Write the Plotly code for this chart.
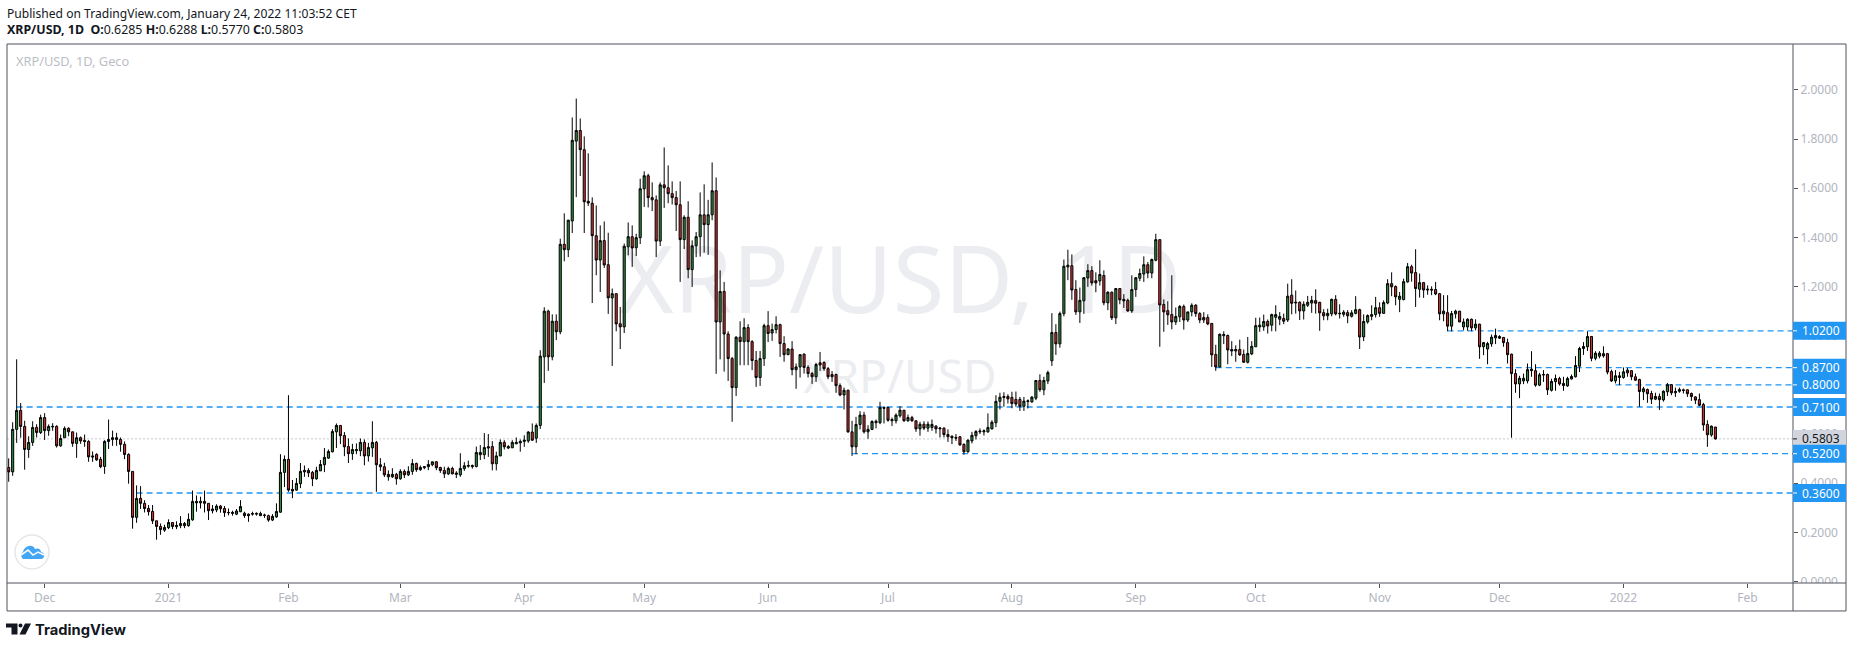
import pandas as pd
import plotly.graph_objects as go

# ---- data -----------------------------------------------------------------
first_day = "2020-11-22"
last_day = "2022-01-24"
missing_day = "2021-01-15"   # the feed has one bar fewer than calendar days in Jan 2021

open_values = [
 .464,.446,.619,.696,.631,.537,.566,.627,.606,.667,
 .614,.629,.631,.552,.585,.623,.609,.562,.585,.574,
 .570,.511,.517,.497,.468,.570,.578,.585,.578,.558,
 .517,.448,.261,.338,.318,.297,.285,.247,.224,.209,
 .219,.240,.223,.227,.236,.227,.251,.326,.320,.326,
 .318,.288,.291,.307,.297,.281,.277,.274,.284,.278,
 .274,.274,.274,.277,.269,.268,.250,.263,.282,.444,
 .497,.375,.372,.398,.446,.452,.444,.418,.450,.475,
 .502,.528,.609,.635,.594,.549,.520,.532,.532,.566,
 .511,.544,.566,.475,.467,.436,.426,.436,.418,.448,
 .434,.448,.480,.455,.463,.467,.475,.487,.464,.452,
 .438,.460,.436,.434,.459,.469,.472,.468,.525,.516,
 .543,.549,.479,.511,.566,.543,.544,.560,.564,.570,
 .572,.608,.583,.635,.914,1.100,.914,1.059,1.016,1.372,
 1.350,1.467,1.792,1.835,1.757,1.547,1.539,1.407,1.308,1.387,
 1.289,1.154,1.171,1.049,1.036,1.362,1.403,1.358,1.399,1.598,
 1.651,1.562,1.553,1.385,1.614,1.602,1.578,1.562,1.533,1.391,
 1.482,1.269,1.366,1.403,1.492,1.452,1.492,1.590,1.056,1.180,
 1.007,.907,.789,.994,.976,1.033,.976,.899,.830,.907,
 1.041,1.011,1.025,1.045,.968,.923,.946,.862,.873,.925,
 .871,.846,.833,.890,.891,.866,.842,.842,.797,.759,
 .778,.609,.548,.639,.677,.609,.619,.646,.646,.708,
 .708,.654,.654,.674,.697,.654,.667,.654,.621,.640,
 .624,.627,.632,.621,.624,.598,.591,.583,.589,.558,
 .528,.572,.593,.609,.609,.609,.621,.646,.733,.753,
 .753,.749,.741,.741,.713,.732,.731,.746,.818,.780,
 .816,.898,1.013,.967,1.090,1.280,1.285,1.188,1.097,1.142,
 1.235,1.265,1.224,1.223,1.245,1.134,1.177,1.073,1.192,1.148,
 1.144,1.101,1.188,1.234,1.251,1.289,1.255,1.307,1.391,1.127,
 1.102,1.086,1.056,1.077,1.119,1.064,1.097,1.124,1.090,1.064,
 1.074,1.050,.924,.873,1.000,1.001,.944,.938,.944,.924,
 .892,.926,.955,1.036,1.036,1.058,1.043,1.075,1.067,1.070,
 1.064,1.165,1.133,1.136,1.101,1.124,1.133,1.143,1.136,1.094,
 1.081,1.089,1.148,1.089,1.087,1.094,1.079,1.091,1.106,.995,
 1.056,1.079,1.086,1.114,1.091,1.133,1.212,1.200,1.148,1.147,
 1.219,1.281,1.257,1.189,1.216,1.186,1.189,1.188,1.171,1.089,
 1.094,1.039,1.089,1.100,1.036,1.036,1.067,1.032,1.047,.955,
 .946,.967,.991,.997,.993,.972,.925,.846,.804,.816,
 .816,.858,.858,.799,.840,.842,.778,.813,.826,.806,
 .796,.824,.833,.876,.948,.955,.997,.908,.917,.927,
 .927,.854,.816,.830,.830,.849,.858,.833,.822,.772,
 .781,.765,.742,.753,.739,.772,.801,.768,.774,.780,
 .780,.765,.751,.740,.720,.639,.596,.6285,
]
close_values = [
 .446,.619,.696,.631,.537,.566,.627,.606,.667,.614,
 .631,.631,.552,.582,.623,.609,.562,.585,.572,.570,
 .507,.507,.495,.467,.570,.578,.585,.578,.558,.517,
 .448,.261,.338,.318,.297,.284,.247,.224,.211,.220,
 .240,.224,.228,.236,.227,.253,.326,.320,.326,.318,
 .288,.295,.307,.296,.280,.280,.281,.287,.305,.268,
 .268,.276,.277,.268,.270,.250,.265,.285,.444,.497,
 .372,.368,.399,.448,.452,.442,.418,.452,.476,.505,
 .529,.610,.635,.593,.548,.520,.537,.537,.566,.511,
 .545,.566,.475,.467,.434,.426,.436,.418,.448,.434,
 .448,.480,.455,.464,.467,.476,.487,.463,.452,.438,
 .460,.438,.441,.460,.471,.472,.468,.525,.516,.545,
 .548,.479,.511,.566,.548,.549,.566,.566,.570,.575,
 .608,.575,.635,.917,1.100,.914,1.059,1.016,1.372,1.350,
 1.470,1.795,1.835,1.757,1.545,1.540,1.407,1.308,1.387,1.288,
 1.154,1.171,1.048,1.036,1.364,1.403,1.357,1.399,1.598,1.651,
 1.562,1.553,1.385,1.614,1.602,1.578,1.562,1.533,1.391,1.482,
 1.269,1.366,1.403,1.492,1.452,1.492,1.590,1.056,1.180,1.007,
 .907,.789,.994,.976,1.033,.976,.899,.830,.907,1.041,
 1.009,1.025,1.045,.968,.923,.946,.862,.873,.923,.871,
 .846,.833,.883,.881,.866,.833,.833,.797,.759,.778,
 .609,.548,.639,.677,.609,.619,.651,.652,.708,.705,
 .656,.659,.677,.697,.654,.667,.654,.621,.640,.624,
 .640,.639,.621,.624,.598,.589,.585,.586,.556,.528,
 .575,.595,.610,.612,.613,.627,.648,.733,.750,.749,
 .743,.724,.722,.713,.734,.735,.750,.818,.780,.818,
 .850,1.013,.967,1.090,1.283,1.287,1.186,1.097,1.144,1.236,
 1.265,1.215,1.215,1.249,1.134,1.177,1.073,1.192,1.146,1.142,
 1.101,1.188,1.236,1.253,1.289,1.255,1.310,1.391,1.125,1.097,
 1.085,1.056,1.078,1.119,1.064,1.097,1.124,1.090,1.064,1.074,
 1.048,.922,.873,1.006,1.005,.942,.938,.944,.922,.892,
 .928,.957,1.041,1.043,1.058,1.040,1.086,1.086,1.078,1.059,
 1.161,1.132,1.136,1.101,1.128,1.136,1.144,1.132,1.093,1.081,
 1.091,1.148,1.089,1.091,1.096,1.081,1.093,1.106,.995,1.058,
 1.082,1.086,1.114,1.091,1.135,1.212,1.199,1.158,1.161,1.220,
 1.281,1.255,1.192,1.216,1.186,1.189,1.186,1.170,1.089,1.100,
 1.039,1.090,1.100,1.056,1.056,1.067,1.032,1.047,.955,.972,
 .968,.994,1.001,.990,.972,.923,.846,.804,.827,.827,
 .862,.864,.799,.841,.842,.780,.814,.826,.804,.797,
 .826,.834,.879,.948,.956,.997,.908,.929,.929,.918,
 .852,.816,.837,.837,.853,.860,.833,.819,.773,.784,
 .764,.742,.753,.740,.774,.801,.768,.773,.781,.777,
 .764,.753,.738,.717,.637,.597,.632,.5803,
]
high_values = [
 .501,.648,.904,.726,.654,.591,.652,.640,.679,.685,
 .639,.644,.636,.598,.631,.628,.610,.606,.590,.598,
 .575,.529,.522,.507,.575,.659,.614,.605,.586,.570,
 .522,.448,.391,.388,.331,.311,.311,.247,.236,.231,
 .253,.242,.245,.266,.242,.277,.370,.350,.345,.370,
 .318,.311,.314,.311,.307,.297,.288,.295,.331,.284,
 .277,.284,.281,.284,.276,.272,.274,.318,.518,.513,
 .758,.413,.421,.482,.472,.461,.450,.467,.494,.543,
 .537,.620,.643,.637,.608,.582,.560,.562,.582,.578,
 .564,.652,.572,.502,.483,.452,.461,.442,.457,.456,
 .469,.498,.484,.472,.469,.494,.487,.490,.467,.467,
 .467,.467,.449,.522,.486,.492,.476,.549,.555,.604,
 .600,.571,.528,.578,.575,.555,.575,.586,.578,.595,
 .612,.643,.643,.941,1.116,1.106,1.087,1.087,1.395,1.498,
 1.472,1.888,1.965,1.884,1.811,1.742,1.563,1.530,1.449,1.465,
 1.419,1.192,1.171,1.117,1.375,1.461,1.449,1.415,1.639,1.669,
 1.659,1.624,1.571,1.624,1.766,1.693,1.628,1.589,1.628,1.490,
 1.547,1.388,1.422,1.583,1.616,1.553,1.705,1.644,1.266,1.219,
 1.018,.914,.998,1.059,1.071,1.047,.982,.938,.938,1.049,
 1.100,1.049,1.079,1.049,.998,.950,.978,.887,.925,.928,
 .880,.853,.890,.934,.896,.873,.856,.846,.806,.789,
 .781,.654,.670,.693,.690,.636,.656,.659,.731,.713,
 .711,.667,.684,.713,.697,.679,.674,.654,.650,.652,
 .651,.659,.636,.629,.627,.619,.595,.600,.591,.562,
 .578,.609,.616,.623,.619,.684,.656,.758,.768,.770,
 .762,.772,.773,.751,.751,.741,.755,.818,.843,.833,
 .858,1.092,1.047,1.098,1.310,1.350,1.331,1.226,1.196,1.239,
 1.291,1.283,1.258,1.307,1.266,1.181,1.180,1.193,1.193,1.169,
 1.151,1.246,1.239,1.273,1.323,1.300,1.314,1.415,1.391,1.148,
 1.140,1.246,1.115,1.125,1.127,1.097,1.132,1.129,1.096,1.096,
 1.087,1.052,.963,1.009,1.018,1.005,.978,.961,.984,.944,
 .995,.978,1.073,1.074,1.086,1.066,1.090,1.124,1.096,1.090,
 1.212,1.230,1.184,1.140,1.140,1.162,1.162,1.189,1.138,1.108,
 1.110,1.151,1.165,1.128,1.104,1.104,1.104,1.161,1.110,1.087,
 1.087,1.124,1.158,1.136,1.144,1.230,1.258,1.205,1.178,1.232,
 1.296,1.289,1.352,1.253,1.219,1.205,1.201,1.219,1.174,1.165,
 1.165,1.101,1.106,1.101,1.070,1.071,1.070,1.067,1.049,.975,
 .975,1.005,1.029,1.002,.995,.988,.927,.864,.837,.846,
 .887,.937,.884,.849,.860,.846,.825,.842,.833,.833,
 .833,.842,.917,.955,.974,1.018,.999,.937,.937,.957,
 .930,.862,.860,.853,.871,.869,.860,.846,.825,.792,
 .785,.776,.768,.765,.778,.808,.803,.789,.789,.785,
 .781,.769,.754,.765,.727,.656,.635,.6288,
]
low_values = [
 .406,.430,.564,.585,.455,.503,.552,.586,.600,.576,
 .593,.613,.545,.548,.585,.591,.548,.503,.560,.548,
 .487,.487,.491,.461,.438,.539,.552,.552,.528,.498,
 .398,.215,.239,.295,.281,.268,.234,.170,.190,.202,
 .213,.213,.213,.217,.217,.223,.247,.284,.297,.281,
 .250,.277,.282,.280,.263,.269,.268,.270,.282,.259,
 .243,.268,.268,.266,.259,.243,.246,.259,.280,.384,
 .365,.339,.369,.380,.426,.425,.388,.414,.450,.445,
 .499,.525,.543,.559,.510,.482,.495,.518,.510,.473,
 .488,.507,.365,.450,.425,.410,.421,.394,.414,.421,
 .429,.434,.446,.450,.457,.453,.469,.453,.442,.421,
 .433,.436,.421,.426,.450,.463,.459,.464,.494,.498,
 .507,.452,.452,.510,.537,.539,.543,.560,.528,.548,
 .564,.572,.564,.621,.808,.857,.900,.982,1.006,1.303,
 1.320,1.418,1.564,1.650,1.418,1.528,1.133,1.246,1.178,1.276,
 1.089,.877,1.018,.946,1.011,1.327,1.280,1.324,1.373,1.524,
 1.522,1.507,1.320,1.365,1.520,1.539,1.534,1.426,1.219,1.353,
 1.234,1.198,1.320,1.322,1.338,1.329,1.470,.845,.904,.854,
 .816,.650,.755,.880,.880,.880,.860,.792,.796,.877,
 .974,.979,1.009,.914,.894,.921,.839,.784,.830,.846,
 .830,.804,.812,.857,.857,.823,.812,.768,.754,.700,
 .605,.511,.518,.619,.602,.581,.616,.623,.640,.643,
 .650,.633,.643,.667,.650,.650,.650,.609,.593,.616,
 .609,.613,.602,.586,.586,.568,.559,.572,.552,.516,
 .524,.562,.578,.600,.594,.605,.619,.628,.700,.711,
 .724,.705,.711,.694,.694,.704,.727,.738,.772,.758,
 .803,.877,.922,.951,1.079,1.226,1.146,1.085,1.052,1.089,
 1.199,1.204,1.177,1.204,1.124,1.104,1.064,1.047,1.128,1.113,
 1.097,1.093,1.158,1.222,1.219,1.234,1.234,1.303,.955,1.016,
 1.044,1.026,1.044,1.056,1.025,1.056,1.079,1.077,1.051,1.052,
 1.043,.873,.857,.871,.966,.884,.917,.894,.918,.891,
 .887,.921,.955,1.016,1.020,1.009,1.018,1.018,1.043,1.047,
 1.056,1.087,1.090,1.064,1.066,1.117,1.093,1.090,1.020,1.063,
 1.063,1.079,1.083,1.070,1.077,1.051,1.074,1.087,.946,.978,
 1.049,1.063,1.074,1.077,1.089,1.128,1.161,1.124,1.096,1.144,
 1.216,1.220,1.117,1.155,1.154,1.167,1.165,1.165,1.063,1.059,
 1.018,1.018,1.070,1.056,1.022,1.020,1.018,1.022,.906,.921,
 .884,.955,.966,.987,.955,.887,.585,.768,.746,.803,
 .806,.833,.792,.795,.812,.759,.773,.776,.797,.776,
 .792,.822,.830,.852,.922,.938,.896,.900,.908,.911,
 .843,.812,.806,.799,.825,.833,.819,.816,.711,.738,
 .727,.722,.738,.698,.732,.755,.758,.751,.768,.765,
 .751,.735,.722,.713,.613,.548,.589,.5770,
]

price_ticks = [0, .2, .4, .6, .8, 1.0, 1.2, 1.4, 1.6, 1.8, 2.0]
time_ticks = ["2020-12-01", "2021-01-01", "2021-02-01", "2021-03-01", "2021-04-01", "2021-05-01",
              "2021-06-01", "2021-07-01", "2021-08-01", "2021-09-01", "2021-10-01", "2021-11-01",
              "2021-12-01", "2022-01-01", "2022-02-01"]
time_labels = ["Dec", "2021", "Feb", "Mar", "Apr", "May", "Jun", "Jul", "Aug", "Sep", "Oct", "Nov",
               "Dec", "2022", "Feb"]
level_values = [1.02, 0.87, 0.80, 0.71, 0.52, 0.36]
level_starts = ["2021-11-18", "2021-09-21", "2021-12-30", "2020-11-24", "2021-06-22", "2020-12-24"]
last_price = 0.5803

# ---- layout helpers -------------------------------------------------------
W, H = 1852, 648
L, R, T, B = 7.0, 1793.0, 43.5, 583.0
OUT_R, OUT_B = 1846.0, 611.0
def px(x): return (x - L) / (R - L)
def py(y): return (B - y) / (B - T)
def path(*cmds):
    out = []
    for c in cmds:
        if c[0] == "Z":
            out.append("Z")
        elif c[0] == "L":
            pts = c[1:]
            for i in range(0, len(pts), 2):
                out.append(f"L{px(pts[i]):.5f},{py(pts[i+1]):.5f}")
        else:
            pts = c[1:]
            out.append(c[0] + " ".join(f"{px(pts[i]):.5f},{py(pts[i+1]):.5f}" for i in range(0, len(pts), 2)))
    return " ".join(out)

AX = "#50535e"
GREY = "#b2b5be"
BLUE = "#2196f3"
FONT = "Noto Sans"
X_START, X_END = "2020-11-21 14:00", "2022-02-12 10:00"
TAG_HALF = 9 / 246

shapes = []
def pbox(x0, y0, x1, y1, **kw):
    shapes.append(dict(type="rect", xref="paper", yref="paper", x0=px(x0), x1=px(x1), y0=py(y0), y1=py(y1), **kw))

# watermarks (real text drawn under the candles)
pbox(600, 240, 1200, 325, layer="below", line=dict(width=0),
     label=dict(text="XRP/USD, 1D", textposition="middle center", font=dict(family=FONT, size=94, color="#ecedf0")))
pbox(700, 355, 1100, 400, layer="below", line=dict(width=0),
     label=dict(text="XRP/USD", textposition="middle center", font=dict(family=FONT, size=46, color="#ecedf0")))

# last-price dotted line
shapes.append(dict(type="line", xref="x", yref="y", x0=X_START, x1=X_END, y0=last_price, y1=last_price,
                   layer="below", line=dict(color="#c9cbd3", width=1, dash="2px,2px")))
# horizontal levels
for v, s in zip(level_values, level_starts):
    shapes.append(dict(type="line", xref="x", yref="y", x0=s, x1=X_END, y0=v, y1=v, layer="below",
                       line=dict(color=BLUE, width=1.3, dash="6px,4px")))

# time panel mask and frame
pbox(R, B, OUT_R, OUT_B, fillcolor="white", line=dict(width=0), layer="above")
pbox(L, T, OUT_R, OUT_B, line=dict(color=AX, width=1), layer="above")
shapes.append(dict(type="line", xref="paper", yref="paper", x0=px(R), x1=px(R), y0=py(T), y1=py(OUT_B),
                   line=dict(color=AX, width=1), layer="above"))
shapes.append(dict(type="line", xref="paper", yref="paper", x0=px(L), x1=px(OUT_R), y0=py(B), y1=py(B),
                   line=dict(color=AX, width=1), layer="above"))

annotations = []
def note(x, y, text, size=12, color="#131722", family=FONT, xanchor="left", yref="paper"):
    annotations.append(dict(xref="paper", yref=yref, x=px(x), y=py(y) if yref == "paper" else y, text=text,
                            showarrow=False, xanchor=xanchor, yanchor="middle", borderpad=0,
                            font=dict(family=family, size=size, color=color)))

# price tags
for v in [last_price] + level_values[::-1]:
    fill = "#d1d4dc" if v == last_price else BLUE
    shapes.append(dict(type="rect", xref="paper", yref="y", x0=px(R), x1=px(OUT_R), y0=v - TAG_HALF, y1=v + TAG_HALF,
                       fillcolor=fill, line=dict(width=0), layer="above"))
    shapes.append(dict(type="line", xref="paper", yref="y", x0=px(R), x1=px(R + 4), y0=v, y1=v,
                       line=dict(color="#131722" if v == last_price else "white", width=1), layer="above"))
    note(1801, v, f"{v:.4f}", color="#131722" if v == last_price else "white", yref="y")

# header, legend, footer
note(6, 12.5, "Published on TradingView.com, January 24, 2022 11:03:52 CET", size=12.1)
note(6, 29, "<b>XRP/USD, 1D</b>&nbsp;&nbsp;<b>O:</b>0.6285 <b>H:</b>0.6288 <b>L:</b>0.5770 <b>C:</b>0.5803", size=12.4)
note(15, 60.5, "XRP/USD, 1D, Geco", size=12.8, color="#bcbec6")
note(34, 630, "<b>TradingView</b>", size=14.7, family="Inter")

# TradingView mark
shapes.append(dict(type="path", xref="paper", yref="paper", fillcolor="#131722", line=dict(width=0),
    path=path(("M", 6, 623.5), ("L", 17.5, 623.5, 17.5, 634.5, 11.5, 634.5, 11.5, 627.5, 6, 627.5), ("Z",))))
shapes.append(dict(type="circle", xref="paper", yref="paper", x0=px(18.5), x1=px(22.5), y0=py(627.5), y1=py(623.5),
                   fillcolor="#131722", line=dict(width=0)))
shapes.append(dict(type="path", xref="paper", yref="paper", fillcolor="#131722", line=dict(width=0),
    path=path(("M", 25, 623.5), ("L", 31, 623.5, 25.5, 634.5, 19.5, 634.5), ("Z",))))

# cloud badge
shapes.append(dict(type="circle", xref="paper", yref="paper", x0=px(15), x1=px(49), y0=py(569), y1=py(535),
                   fillcolor="white", line=dict(color="#e6e7ea", width=1.5), layer="above"))
shapes.append(dict(type="path", xref="paper", yref="paper", fillcolor="#42a5f5", line=dict(width=0), layer="above",
    path=path(("M", 23, 559), ("Q", 19, 555, 23, 552), ("Q", 24, 547, 29, 546), ("Q", 33, 545, 35, 549),
              ("Q", 40, 547, 41, 552), ("Q", 45, 553, 44, 557), ("Q", 43, 559, 41, 559), ("Z",))))
shapes.append(dict(type="path", xref="paper", yref="paper", line=dict(color="white", width=1.5), layer="above",
    path=path(("M", 21, 555), ("L", 28, 550, 33, 555, 38, 552, 44, 555))))

# ---- figure ---------------------------------------------------------------
days = pd.date_range(first_day, last_day, freq="D")
days = days[days != pd.Timestamp(missing_day)]

fig = go.Figure(go.Candlestick(
    x=days, open=open_values, high=high_values, low=low_values, close=close_values,
    increasing=dict(line=dict(color="#000000", width=1), fillcolor="#2e8b3a"),
    decreasing=dict(line=dict(color="#000000", width=1), fillcolor="#d32f2f"),
    whiskerwidth=0, hoverinfo="skip", showlegend=False,
))
fig.update_layout(
    width=W, height=H, margin=dict(l=L, r=W - R, t=T, b=H - B, pad=0),
    paper_bgcolor="white", plot_bgcolor="white", boxgap=0.25, showlegend=False,
    shapes=shapes, annotations=annotations, hovermode=False,
    xaxis=dict(type="date", range=[X_START, X_END], rangeslider=dict(visible=False),
               rangebreaks=[dict(values=[missing_day])],
               tickmode="array", tickvals=time_ticks, ticktext=time_labels,
               ticks="outside", ticklen=4, tickcolor=AX, showgrid=False, zeroline=False, showline=False,
               tickfont=dict(family=FONT, size=12, color=GREY), automargin=False),
    yaxis=dict(side="right", range=[-0.0061, 2.187], tickmode="array", tickvals=price_ticks,
               tickformat=".4f", ticks="outside", ticklen=4, tickcolor=AX, showgrid=False, zeroline=False,
               showline=False, tickfont=dict(family=FONT, size=12, color=GREY), automargin=False),
)
assert len(open_values) == len(close_values) == len(high_values) == len(low_values) == len(days)
fig.write_html("out.html", config=dict(displayModeBar=False),
               post_script="document.body.style.margin='0';document.documentElement.style.overflow='hidden';")
